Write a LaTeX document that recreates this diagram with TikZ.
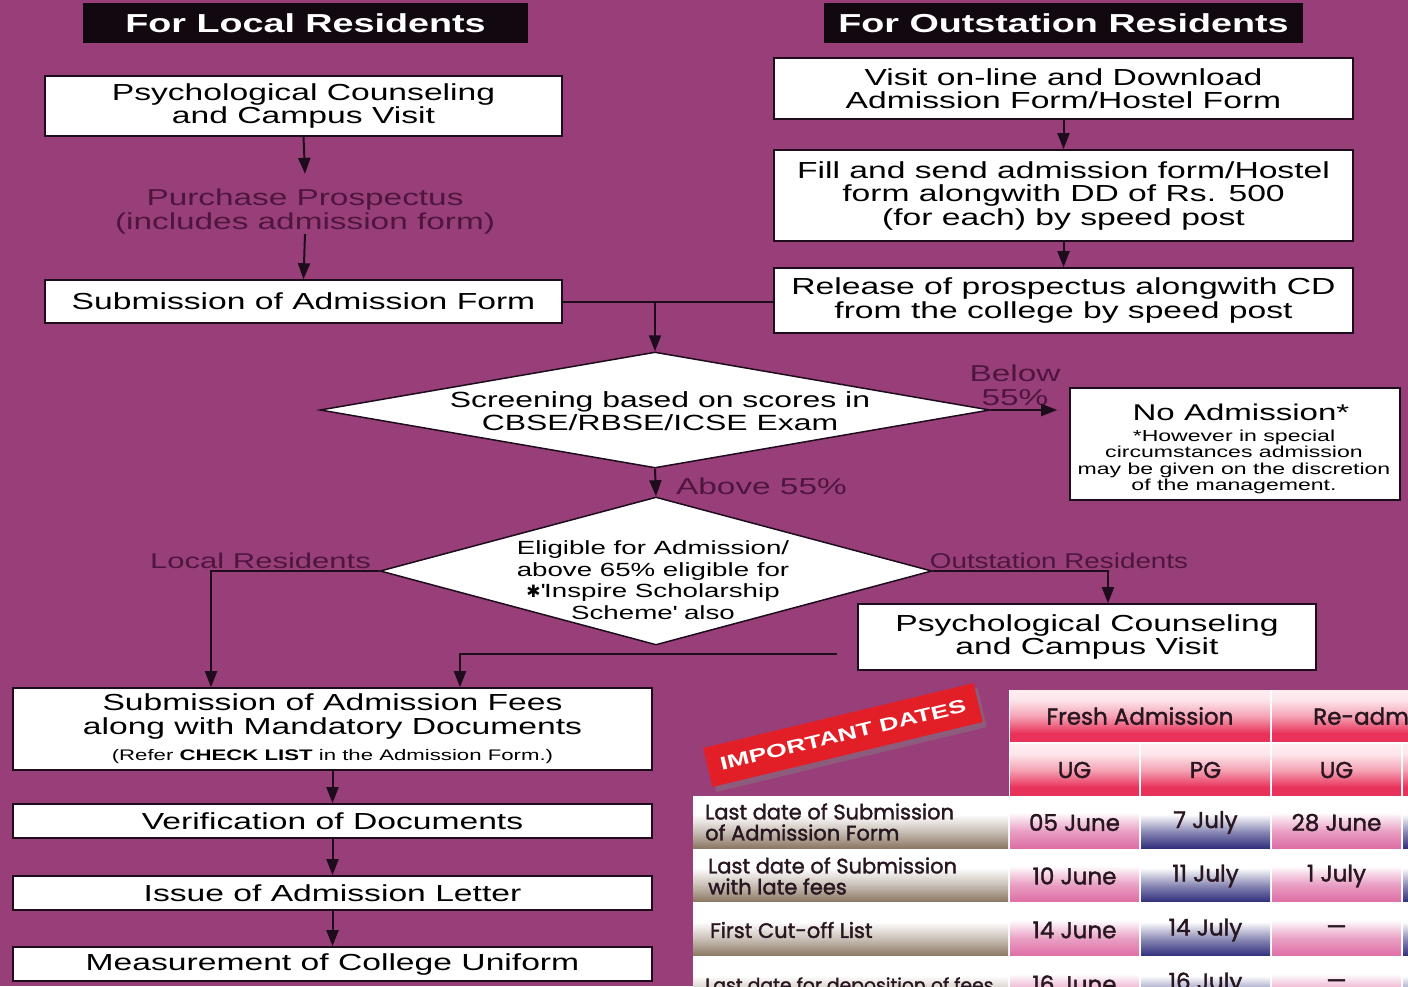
\documentclass[tikz,border=0pt]{standalone}
\usepackage{fontspec}
\setmainfont{Liberation Sans}[FakeStretch=1.45]
\newfontfamily\narrowfam{Liberation Sans}[FakeStretch=1.3]
\newfontfamily\tabfam{Poppins}[FakeBold=1.6]
\newfontfamily\symfam{DejaVu Sans}
\usetikzlibrary{shapes.geometric,arrows.meta,calc,shadows}
\definecolor{bg}{RGB}{152,63,121}
\definecolor{dk}{RGB}{78,22,62}
\definecolor{ln}{RGB}{30,12,28}
\definecolor{pk}{RGB}{222,110,165}
\definecolor{nv}{RGB}{50,48,125}
\definecolor{tn}{RGB}{140,120,100}
\definecolor{hr}{RGB}{232,50,90}
\definecolor{ribred}{RGB}{226,30,38}
\definecolor{tabtxt}{RGB}{40,22,32}
\pgfdeclareverticalshading{pinkcell}{100bp}{color(0bp)=(pk); color(25bp)=(pk); color(42bp)=(pk!65!white); color(60bp)=(white); color(100bp)=(white)}
\pgfdeclareverticalshading{navycell}{100bp}{color(0bp)=(nv); color(25bp)=(nv); color(40bp)=(nv!60!white); color(58bp)=(white); color(100bp)=(white)}
\pgfdeclareverticalshading{tancell}{100bp}{color(0bp)=(tn); color(25bp)=(tn); color(42bp)=(tn!45!white); color(58bp)=(white); color(100bp)=(white)}
\pgfdeclareverticalshading{hdrcell}{100bp}{color(0bp)=(hr); color(25bp)=(hr); color(33bp)=(hr); color(50bp)=(hr!45!white); color(66bp)=(hr!12!white); color(100bp)=(white)}
\newcommand\bxf{\fontsize{23.2}{23.5}\selectfont}
\newcommand\hdf{\fontsize{26}{28}\selectfont\bfseries}
\newcommand\lbf{\fontsize{23}{23.5}\selectfont}
\newcommand\lrf{\fontsize{21.4}{23}\selectfont}
\newcommand\orf{\narrowfam\fontsize{21.4}{23}\selectfont}
\newcommand\dof{\fontsize{22}{23}\selectfont}
\newcommand\dtf{\fontsize{19.1}{21.5}\selectfont}
\newcommand\naf{\fontsize{22.8}{24}\selectfont}
\newcommand\nsf{\fontsize{15.9}{16.5}\selectfont}
\newcommand\smf{\fontsize{15.3}{16}\selectfont}
\newcommand\ribf{\fontsize{18.4}{20}\selectfont\bfseries}
\newcommand\tlf{\tabfam\fontsize{21}{21}\selectfont}
\newcommand\tlsf{\tabfam\fontsize{18.8}{20}\selectfont}
\newcommand\tvf{\tabfam\fontsize{23}{24}\selectfont}
\newcommand\qs{\textquotesingle}
\begin{document}
\begin{tikzpicture}[x=1pt,y=-1pt,
  box/.style={draw=ln, line width=1.6pt, fill=white, inner sep=0pt, align=center, font=\bxf, text=black},
  hdr/.style={fill=black!88!bg, text=white, inner sep=0pt, font=\hdf},
  dia/.style={diamond, draw=ln, line width=1.5pt, fill=white, inner sep=0pt},
  arr/.style={draw=ln, line width=2pt, -{Triangle[length=16pt,width=12pt]}},
  lnk/.style={draw=ln, line width=2pt},
  lbl/.style={text=dk, inner sep=0pt, align=center},
  txt/.style={inner sep=0pt, align=center, text=black},
  pkc/.style={shade, shading=pinkcell, inner sep=0pt, minimum width=129, minimum height=51, font=\tvf, text=tabtxt},
  nvc/.style={shade, shading=navycell, inner sep=0pt, minimum width=129, minimum height=51, font=\tvf, text=tabtxt},
  tnc/.style={shade, shading=tancell, inner sep=0pt, minimum width=315, minimum height=51},
  hdc/.style={shade, shading=hdrcell, inner sep=0pt, minimum height=51, font=\tvf, text=tabtxt},
  tlab/.style={anchor=west, inner sep=0pt, align=left, font=\tlf, text=tabtxt}
]
\useasboundingbox (0,0) rectangle (1408,986);
\begin{scope}
\clip (0,0) rectangle (1408,986);
\fill[bg] (0,0) rectangle (1408,986);

% headers
\node[hdr, minimum width=445, minimum height=40] (hL) at (305.5,23) {For Local Residents};
\node[hdr, minimum width=479, minimum height=40] (hR) at (1063.5,23) {For Outstation Residents};

% local column
\node[box, minimum width=517, minimum height=60] (A1) at (303.5,106) {Psychological Counseling\\and Campus Visit};
\node[lbl, font=\lbf] (P) at (305,211.5) {Purchase Prospectus\\(includes admission form)};
\node[box, minimum width=517, minimum height=43] (A3) at (303.5,301.5) {Submission of Admission Form};

% outstation column
\node[box, minimum width=579, minimum height=61] (B1) at (1063.5,88.5) {Visit on-line and Download\\Admission Form/Hostel Form};
\node[box, minimum width=579, minimum height=91] (B2) at (1063.5,195.5) {Fill and send admission form/Hostel\\form alongwith DD of Rs. 500\\(for each) by speed post};
\node[box, minimum width=579, minimum height=65] (B3) at (1063.5,300.5) {Release of prospectus alongwith CD\\from the college by speed post};

% decisions
\node[dia, minimum width=670, minimum height=116] (D1) at (655,410) {};
\node[txt, font=\dof] (D1t) at (660,411) {Screening based on scores in\\CBSE/RBSE/ICSE Exam};
\node[dia, minimum width=552, minimum height=148] (D2) at (656,571) {};
\node[txt, font=\dtf] (D2t) at (653,580) {Eligible for Admission/\\above 65\% eligible for\\{\symfam\fontsize{17}{17}\selectfont ✱}\qs Inspire Scholarship\\Scheme\qs{} also};

% no admission
\node[box, minimum width=330, minimum height=112] (NA) at (1235,444) {};
\node[txt, font=\naf] (NAt) at (1241,412) {No Admission*};
\node[txt, font=\nsf] (NAs) at (1234,462) {*However in special\\circumstances admission\\may be given on the discretion\\of the management.};

% second counseling
\node[box, minimum width=458, minimum height=66] (E) at (1087,637) {Psychological Counseling\\and Campus Visit};

% bottom chain
\node[box, minimum width=639, minimum height=82] (C1) at (332.5,729) {Submission of Admission Fees\\along with Mandatory Documents\\[3pt]{\smf (Refer \textbf{CHECK LIST} in the Admission Form.)}};
\node[box, minimum width=639, minimum height=34] (C2) at (332.5,821) {Verification of Documents};
\node[box, minimum width=639, minimum height=34] (C3) at (332.5,893) {Issue of Admission Letter};
\node[box, minimum width=639, minimum height=34] (C4) at (332.5,964) {Measurement of College Uniform};

% connector labels
\node[lbl, font=\lbf] (bl) at (1015,385.5) {Below\\55\%};
\node[lbl, font=\lbf, anchor=west] (ab) at (676,486) {Above 55\%};
\node[lbl, font=\lrf] (lr) at (260.5,561) {Local Residents};
\node[lbl, font=\orf] (or) at (1059,561) {Outstation Residents};

% connectors
\draw[arr] (A1.south) -- ($(P.north)+(0,-15)$);
\draw[arr] (P.south) -- (A3.north);
\draw[arr] (B1.south) -- (B2.north);
\draw[arr] (B2.south) -- (B3.north);
\draw[lnk] (A3.east) -- (A3.east -| B3.west);
\coordinate (J) at (D1.north |- A3.east);
\draw[arr] (J) -- (D1.north);
\draw[arr, shorten >=12pt] (D1.east) -- (D1.east -| NA.west);
\draw[arr] (D1.south) -- (D2.north);
\coordinate (cL) at (211,0);
\coordinate (cR) at (1108,0);
\coordinate (cM) at (460,0);
\draw[arr] (D2.west) -| (cL |- C1.north);
\draw[arr] (D2.east) -| (cR |- E.north);
\coordinate (eS) at ($(E.west)+(-20,17)$);
\draw[arr] (eS) -| (cM |- C1.north);
\draw[arr] (C1.south) -- (C2.north);
\draw[arr] (C2.south) -- (C3.north);
\draw[arr] (C3.south) -- (C4.north);

% table
\fill[white] (1009,690) rectangle (1408,796);
\fill[white] (693,796) rectangle (1408,986);
\node[hdc, minimum width=260] (fa) at (1140,716) {Fresh Admission};
\node[hdc, minimum width=258] (ra) at (1401,716) {};
\node[anchor=west, inner sep=0pt, text=tabtxt, font=\tvf] (rat) at (1313,716) {Re-admission};
\node[hdc, minimum width=129] (h1) at (1074.5,770) {UG};
\node[hdc, minimum width=129] (h2) at (1205.5,770) {PG};
\node[hdc, minimum width=129] (h3) at (1336.5,770) {UG};
\node[hdc, minimum width=129] (h4) at (1467.5,770) {};

\node[tnc] (l1) at (850.5,822.5) {};
\node[tnc] (l2) at (850.5,876) {};
\node[tnc] (l3) at (850.5,930) {};
\node[tnc] (l4) at (850.5,984) {};
\node[tlab] (l1t) at (705,822) {Last date of Submission\\of Admission Form};
\node[tlab] (l2t) at (708,876) {Last date of Submission\\with late fees};
\node[tlab] (l3t) at (710,930) {First Cut-off List};
\node[tlab, font=\tlsf] (l4t) at (705,987) {Last date for deposition of fees};

\node[pkc] (v11) at (1074.5,822.5) {05 June};
\node[nvc] (v12) at (1205.5,822.5) {7 July};
\node[pkc] (v13) at (1336.5,822.5) {28 June};
\node[nvc] (v14) at (1467.5,822.5) {};
\node[pkc] (v21) at (1074.5,876) {10 June};
\node[nvc] (v22) at (1205.5,876) {11 July};
\node[pkc] (v23) at (1336.5,876) {1 July};
\node[nvc] (v24) at (1467.5,876) {};
\node[pkc] (v31) at (1074.5,930) {14 June};
\node[nvc] (v32) at (1205.5,930) {14 July};
\node[pkc] (v33) at (1336.5,930) {\textemdash};
\node[nvc] (v34) at (1467.5,930) {};
\node[pkc] (v41) at (1074.5,984) {16 June};
\node[nvc] (v42) at (1205.5,984) {16 July};
\node[pkc] (v43) at (1336.5,984) {\textemdash};
\node[nvc] (v44) at (1467.5,984) {};

% ribbon
\node[fill=ribred, text=white, font=\ribf, rotate=13.5, minimum width=278, minimum height=40, inner sep=0pt, drop shadow={opacity=0.45, shadow xshift=4pt, shadow yshift=-5pt}] (rib) at (843,735) {IMPORTANT DATES};
\end{scope}
\end{tikzpicture}
\end{document}
